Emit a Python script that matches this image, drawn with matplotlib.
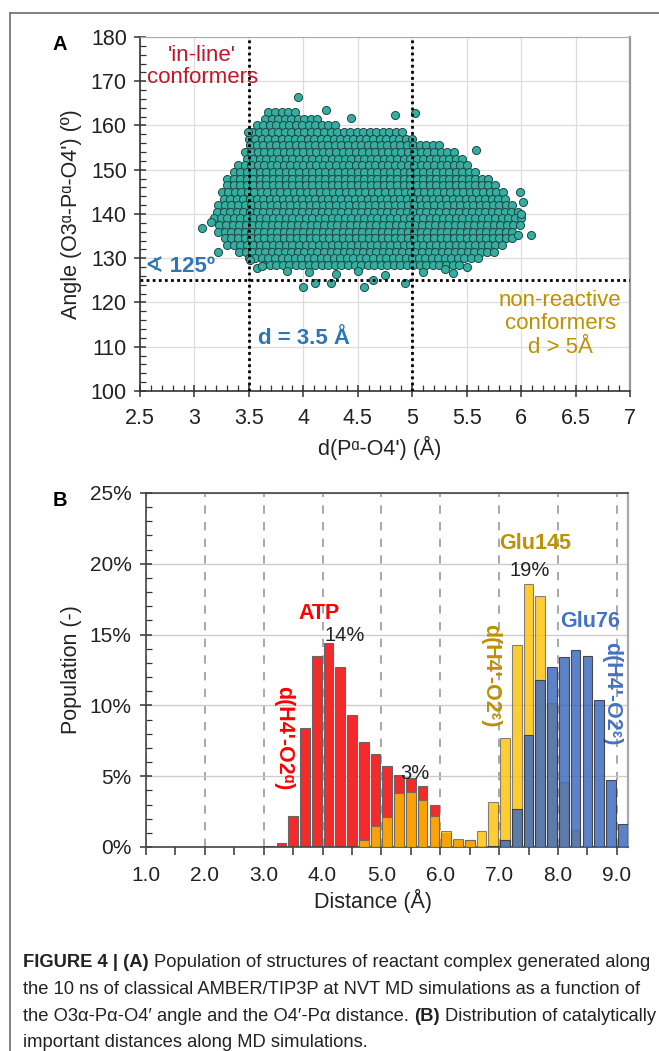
import numpy as np
import matplotlib
matplotlib.use('Agg')
import matplotlib.pyplot as plt
from matplotlib.ticker import MultipleLocator, FuncFormatter
from matplotlib.lines import Line2D

plt.rcParams['font.family'] = ['Liberation Sans', 'DejaVu Sans']

# ---- panel A: outline of the dense cloud, read row by row (angle, left d, right d)
cloud_angle = [163.0, 161.5, 160.0, 158.5, 157.0, 155.5, 154.0, 152.5, 151.0, 149.5,
               148.0, 146.5, 145.0, 143.5, 142.0, 140.5, 139.0, 137.5, 136.0, 134.5,
               133.0, 131.5, 130.0, 128.5]
cloud_left = [3.68, 3.62, 3.57, 3.50, 3.50, 3.48, 3.46, 3.45, 3.40, 3.33,
              3.30, 3.27, 3.25, 3.24, 3.22, 3.18, 3.18, 3.20, 3.22, 3.25,
              3.30, 3.38, 3.50, 3.60]
cloud_right = [3.95, 4.15, 4.30, 4.95, 5.05, 5.25, 5.38, 5.46, 5.52, 5.60,
               5.70, 5.77, 5.85, 5.90, 5.95, 6.00, 6.02, 6.00, 5.97, 5.92,
               5.85, 5.75, 5.60, 5.45]
# scattered points outside the dense body
outlier_d = [3.07, 3.15, 3.22, 3.49, 3.51, 3.57, 3.62, 3.95, 4.21, 4.44, 4.84, 5.03,
             5.59, 5.99, 6.02, 6.00, 6.09, 5.97, 4.00, 4.11, 4.25, 4.56, 4.64, 4.93,
             5.37, 4.05, 4.30, 4.50, 4.75, 5.10, 5.30, 5.50, 3.85]
outlier_angle = [136.9, 138.2, 131.3, 158.6, 129.5, 127.9, 128.3, 166.4, 163.6, 161.8, 162.4, 162.9,
                 154.5, 145.0, 142.6, 139.9, 135.2, 135.2, 123.4, 124.3, 124.3, 123.5, 125.0, 124.3,
                 126.7, 126.8, 126.5, 127.2, 126.3, 127.0, 127.5, 128.0, 127.2]

# ---- panel B: histograms (bin centre in Å, population in %)
atp_x = [3.1, 3.3, 3.5, 3.7, 3.9, 4.1, 4.3, 4.5, 4.7, 4.9, 5.1, 5.3, 5.5, 5.7, 5.9, 6.1, 6.3, 6.5]
atp_y = [0.05, 0.3, 2.2, 8.4, 13.5, 14.4, 12.7, 9.3, 7.4, 6.6, 5.7, 5.1, 4.9, 4.3, 3.0, 1.0, 0.5, 0.5]
glu145_x = [4.7, 4.9, 5.1, 5.3, 5.5, 5.7, 5.9, 6.1, 6.3, 6.5, 6.7, 6.9, 7.1, 7.3, 7.5, 7.7,
            7.9, 8.1, 8.3, 8.5]
glu145_y = [0.5, 1.5, 2.1, 3.8, 3.9, 3.3, 2.2, 1.1, 0.6, 0.5, 1.1, 3.2, 7.7, 14.3, 18.6, 17.7,
            10.2, 4.6, 1.2, 0.1]
glu76_x = [6.9, 7.1, 7.3, 7.5, 7.7, 7.9, 8.1, 8.3, 8.5, 8.7, 8.9, 9.1]
glu76_y = [0.05, 0.5, 2.7, 7.9, 11.8, 12.7, 13.4, 13.9, 13.5, 10.4, 4.7, 1.6]

W, H = 659, 1051
fig = plt.figure(figsize=(W / 100, H / 100), dpi=100)


def rect(left, top, right, bottom):
    return [left / W, 1 - bottom / H, (right - left) / W, (bottom - top) / H]


# outer frame of the figure box
fig.add_artist(Line2D([10 / W, 1], [1 - 13 / H, 1 - 13 / H], transform=fig.transFigure,
                      color='#777777', lw=1.3))
fig.add_artist(Line2D([10 / W, 10 / W], [1 - 13 / H, 0], transform=fig.transFigure,
                      color='#777777', lw=1.3))

# ================= panel A =================
ax1 = fig.add_axes(rect(140, 37, 630, 391))
ax1.set_xlim(2.5, 7)
ax1.set_ylim(100, 180)

dx = 0.06
cx, cy = [], []
for i, (a, l, r) in enumerate(zip(cloud_angle, cloud_left, cloud_right)):
    xs = np.arange(l + (i % 2) * dx / 2, r + 1e-9, dx)
    cx.extend(xs)
    cy.extend([a] * len(xs))
cx = np.array(cx + outlier_d)
cy = np.array(cy + outlier_angle)
ax1.scatter(cx, cy, s=34, facecolor='#35ada0', edgecolor='#1d4a45', linewidth=0.7, zorder=2)

ax1.axvline(3.5, color='black', ls=(0, (1, 1.2)), lw=2, zorder=3)
ax1.axvline(5.0, color='black', ls=(0, (1, 1.2)), lw=2, zorder=3)
ax1.axhline(125, color='black', ls=(0, (1, 1.2)), lw=2, zorder=3)

ax1.xaxis.set_major_locator(MultipleLocator(0.5))
ax1.xaxis.set_minor_locator(MultipleLocator(0.1))
ax1.yaxis.set_major_locator(MultipleLocator(10))
ax1.yaxis.set_minor_locator(MultipleLocator(2))
ax1.xaxis.set_major_formatter(FuncFormatter(lambda v, _: f'{v:g}'))
ax1.grid(which='major', color='#dddddd', lw=0.9, zorder=0)
ax1.set_axisbelow(True)
ax1.tick_params(which='major', direction='inout', length=9, width=1.1, labelsize=15.5,
                colors='#333333', labelcolor='#222222')
ax1.tick_params(axis='x', which='major', pad=8)
ax1.tick_params(axis='y', which='major', pad=5)
ax1.tick_params(which='minor', direction='in', length=4, width=0.9, colors='#333333')
for side in ['left', 'bottom']:
    ax1.spines[side].set_color('#333333')
    ax1.spines[side].set_linewidth(1.2)
ax1.spines['top'].set_color('#aaaaaa')
ax1.spines['right'].set_color('#999999')
ax1.spines['right'].set_linewidth(1.6)

ax1.set_ylabel("Angle (O3ᵅ-Pᵅ-O4') (º)", fontsize=15.5, color='#222222', va='center')
ax1.yaxis.set_label_coords(-0.139, 0.5)
ax1.set_xlabel("d(Pᵅ-O4') (Å)", fontsize=15.5, color='#222222', va='center')
ax1.xaxis.set_label_coords(0.49, -0.161)

ax1.text(3.07, 173.3, "'in-line'\nconformers", color='#c0172b', fontsize=16, ha='center',
         va='center', linespacing=1.08)
ax1.text(2.55, 128.1, '∢ 125º', color='#2e75b6', fontsize=16, fontweight='bold',
         ha='left', va='center')
ax1.text(3.58, 111.8, 'd = 3.5 Å', color='#2e75b6', fontsize=16, fontweight='bold',
         ha='left', va='center')
ax1.text(6.36, 115.2, 'non-reactive\nconformers\nd > 5Å', color='#bf9000', fontsize=16,
         ha='center', va='center', linespacing=1.15)

fig.text(60 / W, 1 - 45 / H, 'A', fontsize=14.5, fontweight='bold', ha='center', va='center')

# ================= panel B =================
ax2 = fig.add_axes(rect(146, 493, 628, 847))
ax2.set_xlim(1.0, 9.19)
ax2.set_ylim(0, 25)

bw = 0.165
ax2.bar(atp_x, atp_y, width=bw, color='#f52a2a', edgecolor='#666666', linewidth=0.8, zorder=2)
ax2.bar(glu145_x, glu145_y, width=bw, color='#ffc000', alpha=0.8, edgecolor='#666666',
        linewidth=0.8, zorder=3)
ax2.bar(glu76_x, glu76_y, width=bw, color='#3f6cc0', alpha=0.85, edgecolor='#333333',
        linewidth=0.8, zorder=4)

ax2.xaxis.set_major_locator(MultipleLocator(1.0))
ax2.xaxis.set_minor_locator(MultipleLocator(0.5))
ax2.yaxis.set_major_locator(MultipleLocator(5))
ax2.yaxis.set_minor_locator(MultipleLocator(1))
ax2.xaxis.set_major_formatter(FuncFormatter(lambda v, _: f'{v:.1f}'))
ax2.yaxis.set_major_formatter(FuncFormatter(lambda v, _: f'{v:.0f}%'))
ax2.grid(axis='y', which='major', color='#cccccc', lw=1.0, zorder=0)
ax2.grid(axis='x', which='major', color='#999999', lw=1.2, ls=(0, (5, 5)), zorder=0)
ax2.set_axisbelow(True)
ax2.tick_params(axis='y', which='major', direction='inout', length=9, width=1.1, pad=6)
ax2.tick_params(axis='y', which='minor', direction='in', length=4, width=0.9)
ax2.tick_params(axis='x', which='both', direction='out', length=6, width=1.1, pad=8)
ax2.tick_params(which='both', colors='#333333', labelcolor='#222222', labelsize=15)
for side in ['left', 'bottom', 'top']:
    ax2.spines[side].set_color('#444444')
    ax2.spines[side].set_linewidth(1.2)
ax2.spines['right'].set_color('#aaaaaa')
ax2.spines['right'].set_linewidth(1.6)

ax2.set_ylabel('Population (-)', fontsize=15.5, color='#222222', va='center')
ax2.yaxis.set_label_coords(-0.154, 0.5)
ax2.set_xlabel('Distance (Å)', fontsize=15.5, color='#222222', va='center')
ax2.xaxis.set_label_coords(0.47, -0.153)

ax2.text(3.94, 16.5, 'ATP', color='#ff0000', fontsize=15.5, fontweight='bold', ha='center', va='center')
ax2.text(4.37, 14.95, '14%', color='#222222', fontsize=14.5, ha='center', va='center')
ax2.text(5.57, 5.2, '3%', color='#222222', fontsize=14.5, ha='center', va='center')
ax2.text(7.61, 21.4, 'Glu145', color='#bf9000', fontsize=15.5, fontweight='bold', ha='center', va='center')
ax2.text(7.52, 19.5, '19%', color='#222222', fontsize=14.5, ha='center', va='center')
ax2.text(8.54, 15.9, 'Glu76', color='#4472c4', fontsize=15.5, fontweight='bold', ha='center', va='center')
ax2.text(3.33, 7.7, "d(H4'-O2ᵅ)", color='#ff0000', fontsize=15.5, fontweight='bold',
         rotation=270, ha='center', va='center')
ax2.text(6.85, 12.1, "d(H4'-O2ᵋ)", color='#bf9000', fontsize=15.5, fontweight='bold',
         rotation=270, ha='center', va='center')
ax2.text(8.92, 10.8, "d(H4'-O2ᵋ)", color='#4472c4', fontsize=15.5, fontweight='bold',
         rotation=270, ha='center', va='center')

fig.text(60 / W, 1 - 500 / H, 'B', fontsize=14.5, fontweight='bold', ha='center', va='center')

# ================= caption =================
cap_lines = [
    [('FIGURE 4 | (A)', True), (' Population of structures of reactant complex generated along', False)],
    [('the 10 ns of classical AMBER/TIP3P at NVT MD simulations as a function of', False)],
    [('the O3α-Pα-O4′ angle and the O4′-Pα distance.', False), (' (B)', True),
     (' Distribution of catalytically', False)],
    [('important distances along MD simulations.', False)],
]
cap_base = [967, 994, 1021, 1047]
renderer = fig.canvas.get_renderer()


def draw_line(parts, y, size):
    x = 23.0
    made = []
    for txt, bold in parts:
        if txt.startswith(' '):
            x += 0.278 * size * 100 / 72
        t = fig.text(x / W, 1 - y / H, txt.strip(), fontsize=size, color='#222222',
                     fontweight='bold' if bold else 'normal', ha='left', va='baseline')
        x += t.get_window_extent(renderer).width
        made.append(t)
    return x, made


right, tmp = draw_line(cap_lines[0], cap_base[0], 12)
for t in tmp:
    t.remove()
cap_size = 12 * (651 - 23) / (right - 23)
for parts, yb in zip(cap_lines, cap_base):
    draw_line(parts, yb, cap_size)

fig.savefig('out.png', dpi=100)
